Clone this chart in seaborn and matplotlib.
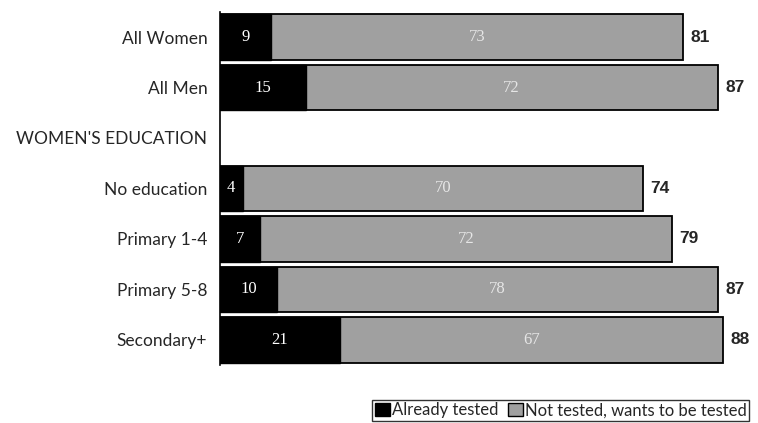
import numpy as np
import pandas as pd
import matplotlib
matplotlib.use("Agg")
import matplotlib.pyplot as plt
import seaborn as sns
from matplotlib.patches import Patch

# dati
categorie = ["All Women", "All Men", "WOMEN'S EDUCATION", "No education",
             "Primary 1-4", "Primary 5-8", "Secondary+"]
gia_testati = [9, 15, np.nan, 4, 7, 10, 21]
non_testati = [73, 72, np.nan, 70, 72, 78, 67]
totale = [81, 87, np.nan, 74, 79, 87, 88]

df = pd.DataFrame({"categoria": categorie, "testati": gia_testati,
                   "non_testati": non_testati, "totale": totale})
df_barre = df.dropna()

sns.set_style("white")
plt.rcParams['font.family'] = ['Lato', 'DejaVu Sans']

grigio = "#a0a0a0"
fig = plt.figure(figsize=(7.58, 4.23), dpi=100)
ax = fig.add_axes([0.29, 0.137, 0.69, 0.835])

# barra totale grigia, poi la parte nera sopra
sns.barplot(data=df_barre, y="categoria", x="totale", order=categorie, orient="h",
            color=grigio, edgecolor="black", linewidth=1.3, width=0.9,
            saturation=1, ax=ax)
sns.barplot(data=df_barre, y="categoria", x="testati", order=categorie, orient="h",
            color="black", edgecolor="black", linewidth=1.0, width=0.9,
            saturation=1, ax=ax)

for i, riga in df.iterrows():
    if np.isnan(riga["totale"]):
        continue
    t = riga["testati"]
    ax.text(t / 2, i, f"{int(t)}", color="white", ha="center", va="center",
            fontsize=12, family="Liberation Serif")
    ax.text((t + riga["totale"]) / 2, i, f"{int(riga['non_testati'])}",
            color="#e6e6e6", ha="center", va="center", fontsize=12,
            family="Liberation Serif")
    ax.text(riga["totale"] + 1.3, i, f"{int(riga['totale'])}", ha="left", va="center",
            fontsize=12.5, fontweight="bold", family="Liberation Sans")

ax.set_xlim(0, 91.4)
ax.set_ylim(6.5, -0.5)
ax.set_xlabel("")
ax.set_ylabel("")
ax.set_xticks([])
ax.tick_params(axis="y", length=0, labelsize=12.5, pad=9)
for s in ["top", "right", "bottom"]:
    ax.spines[s].set_visible(False)
ax.spines["left"].set_color("black")
ax.spines["left"].set_linewidth(1.2)

maniglie = [Patch(facecolor="black", edgecolor="black", label="Already tested"),
            Patch(facecolor=grigio, edgecolor="black", label="Not tested, wants to be tested")]
leg = fig.legend(handles=maniglie, loc="lower right", bbox_to_anchor=(0.988, 0.005),
                 ncol=2, fontsize=12, frameon=True, fancybox=False,
                 handlelength=0.9, handleheight=0.8, handletextpad=0.1,
                 columnspacing=0.6, borderpad=0.15, borderaxespad=0)
leg.get_frame().set_edgecolor("black")
leg.get_frame().set_linewidth(1.0)

plt.savefig("out.png", dpi=100)
